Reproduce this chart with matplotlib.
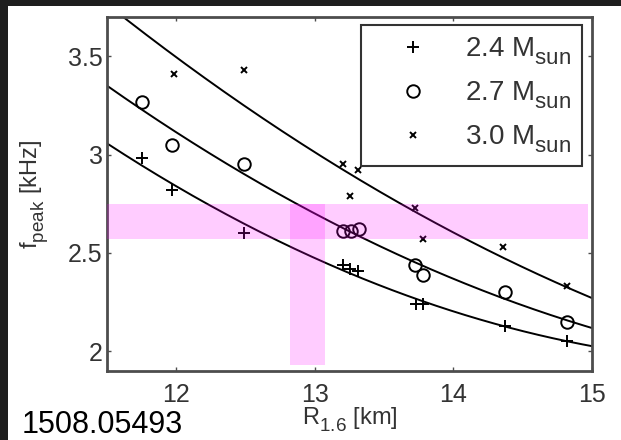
import numpy as np
import matplotlib
matplotlib.use('Agg')
import matplotlib.pyplot as plt
import matplotlib._mathtext as mtext
from matplotlib.patches import Rectangle

plt.rcParams['font.family'] = ['Liberation Sans', 'DejaVu Sans']
plt.rcParams['mathtext.fontset'] = 'custom'
plt.rcParams['mathtext.rm'] = 'Liberation Sans'
# bigger, lower subscripts like the original
mtext.SHRINK_FACTOR = 0.8
mtext.FontConstantsBase.sub1 = 0.55
mtext.FontConstantsBase.subdrop = 0.55

# R_1.6 [km] and f_peak [kHz] for the three binary masses
r_24 = [11.75, 11.97, 12.49, 13.20, 13.25, 13.31, 13.73, 13.78, 14.37, 14.82]
f_24 = [2.985, 2.82, 2.60, 2.44, 2.42, 2.41, 2.24, 2.24, 2.13, 2.05]
r_27 = [11.75, 11.97, 12.49, 13.20, 13.26, 13.32, 13.72, 13.78, 14.37, 14.82]
f_27 = [3.27, 3.05, 2.95, 2.61, 2.61, 2.62, 2.44, 2.39, 2.30, 2.15]
r_30 = [11.98, 12.49, 13.20, 13.31, 13.25, 13.72, 13.78, 14.36, 14.82]
f_30 = [3.41, 3.43, 2.95, 2.92, 2.79, 2.73, 2.57, 2.53, 2.33]

labels = ['2.4 $\\mathregular{M_{sun}}$', '2.7 $\\mathregular{M_{sun}}$',
          '3.0 $\\mathregular{M_{sun}}$']

# measured frequency band and the radius range it gives
band_f = (2.57, 2.75)
band_r = (12.82, 13.07)

fig = plt.figure(figsize=(6.21, 4.40), dpi=100, facecolor='#1e1e1e')
bg = Rectangle((8 / 621, 0), 1, 434 / 440, transform=fig.transFigure,
               facecolor='white', edgecolor='none', zorder=-10)
fig.add_artist(bg)
ax = fig.add_axes([107 / 621, 1 - 371 / 440, 485 / 621, 354 / 440])
ax.set_zorder(1)

rr = np.linspace(11.5, 15, 200)
handles = []
for r, f, m, ms in [(r_24, f_24, '+', 9), (r_27, f_27, 'o', 9), (r_30, f_30, 'x', 5)]:
    coef = np.polyfit(r, f, 2)
    ax.plot(rr, np.polyval(coef, rr), color='black', lw=1.4)
    h, = ax.plot(r, f, linestyle='none', marker=m, ms=ms, mfc='none', mec='black', mew=1.4)
    handles.append(h)

ax.fill_between([11.5, 14.97], band_f[0], band_f[1], color='#ff00ff', alpha=0.2, lw=0, zorder=5)
ax.fill_between(band_r, 1.93, band_f[1], color='#ff00ff', alpha=0.2, lw=0, zorder=5)

ax.set_xlim(11.5, 15)
ax.set_ylim(1.9, 3.7)
ax.set_xticks([12, 13, 14, 15])
ax.set_yticks([2, 2.5, 3, 3.5])
ax.set_yticklabels(['2', '2.5', '3', '3.5'])
for s in ax.spines.values():
    s.set_color('#4d4d4d')
    s.set_linewidth(2)
ax.tick_params(direction='in', length=3, width=1, top=True, right=True,
               labelsize=18, labelcolor='#333333', color='#4d4d4d')
ax.tick_params(axis='x', pad=9)
ax.tick_params(axis='y', pad=3)

ax.set_xlabel('$\\mathregular{R_{1.6}}$ [km]', fontsize=17, color='#333333', labelpad=-1)
ax.set_ylabel('$\\mathregular{f_{peak}}$ [kHz]', fontsize=17, color='#333333', labelpad=12)

leg = ax.legend(handles, labels, loc='upper right', bbox_to_anchor=(582 / 621, 1 - 25 / 440),
                bbox_transform=fig.transFigure, fontsize=20, frameon=True, fancybox=False,
                edgecolor='black', borderpad=0.4, handlelength=2.95, handletextpad=0.4,
                labelspacing=0.45, borderaxespad=0)
leg.get_frame().set_linewidth(1.5)
for t in leg.get_texts():
    t.set_color('#333333')

fig.text(22 / 621, 1 - 433 / 440, '1508.05493', fontsize=22, color='black', va='baseline')

fig.savefig('out.png', dpi=100, facecolor=fig.get_facecolor())
